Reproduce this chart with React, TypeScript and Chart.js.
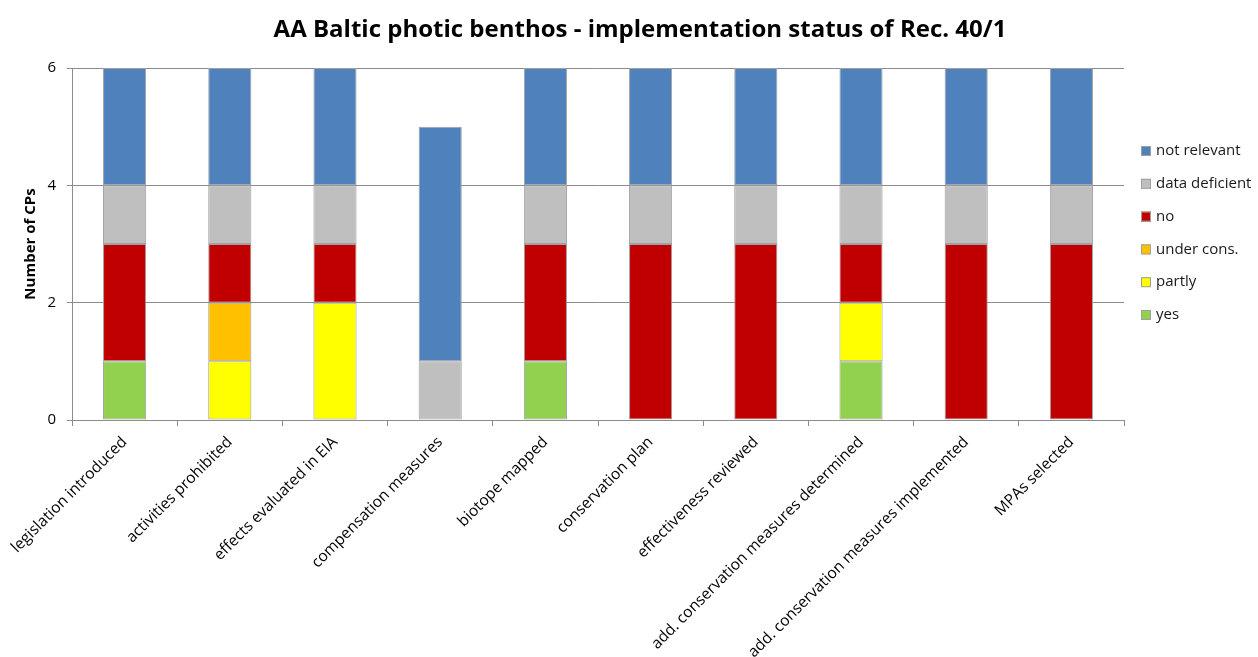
import React, { useEffect, useRef } from "react";
import { Chart, registerables } from "chart.js";

Chart.register(...registerables);

const categories = [
  "legislation introduced",
  "activities prohibited",
  "effects evaluated in EIA",
  "compensation measures",
  "biotope mapped",
  "conservation plan",
  "effectiveness reviewed",
  "add. conservation measures determined",
  "add. conservation measures implemented",
  "MPAs selected",
];

const yesValues = [1, 0, 0, 0, 1, 0, 0, 1, 0, 0];
const partlyValues = [0, 1, 2, 0, 0, 0, 0, 1, 0, 0];
const underConsValues = [0, 1, 0, 0, 0, 0, 0, 0, 0, 0];
const noValues = [2, 1, 1, 0, 2, 3, 3, 1, 3, 3];
const dataDeficientValues = [1, 1, 1, 1, 1, 1, 1, 1, 1, 1];
const notRelevantValues = [2, 2, 2, 4, 2, 2, 2, 2, 2, 2];

const yTicks = [0, 2, 4, 6];

const chartTitle = "AA Baltic photic benthos - implementation status of Rec. 40/1";

const FONT = "'Open Sans', Lato, sans-serif";
const GRID = "#8c8c8c";
const EDGE = "#a0a0a0";

// Title centred over the whole canvas, legend beside the plot (top entry = last stacked series)
const sideDecor = {
  id: "sideDecor",
  afterDraw(chart: any) {
    const { ctx, chartArea } = chart;
    ctx.save();
    ctx.fillStyle = "#000";
    ctx.font = `bold 24px ${FONT}`;
    ctx.textAlign = "center";
    ctx.textBaseline = "middle";
    ctx.fillText(chartTitle, chart.width / 2 + 11, 30);

    const sets = chart.data.datasets.slice().reverse();
    const x = chartArea.right + 17;
    const y0 = chartArea.top + 83;
    const step = 32.8;
    ctx.font = `15px ${FONT}`;
    ctx.textAlign = "left";
    sets.forEach((ds: any, i: number) => {
      const y = y0 + i * step;
      ctx.fillStyle = ds.backgroundColor;
      ctx.fillRect(x, y - 5, 10, 10);
      ctx.strokeStyle = EDGE;
      ctx.lineWidth = 1;
      ctx.strokeRect(x + 0.5, y - 4.5, 9, 9);
      ctx.fillStyle = "#1a1a1a";
      ctx.fillText(ds.label, x + 15, y);
    });
    ctx.restore();
  },
};

export default function App() {
  const canvasRef = useRef<HTMLCanvasElement | null>(null);

  useEffect(() => {
    if (!canvasRef.current) return;
    const mk = (label: string, data: number[], color: string) => ({
      label,
      data,
      backgroundColor: color,
      borderColor: EDGE,
      borderWidth: 1,
      borderSkipped: false,
      barPercentage: 0.41,
      categoryPercentage: 1,
    });
    const chart = new Chart(canvasRef.current, {
      type: "bar",
      data: {
        labels: categories,
        datasets: [
          mk("yes", yesValues, "#92D050"),
          mk("partly", partlyValues, "#FFFF00"),
          mk("under cons.", underConsValues, "#FFC000"),
          mk("no", noValues, "#C00000"),
          mk("data deficient", dataDeficientValues, "#BFBFBF"),
          mk("not relevant", notRelevantValues, "#4F81BD"),
        ],
      },
      options: {
        responsive: false,
        animation: false,
        devicePixelRatio: 1,
        layout: { padding: { left: 0, right: 134, top: 68, bottom: 0 } },
        plugins: {
          legend: { display: false },
          tooltip: { enabled: false },
          title: { display: false },
        },
        scales: {
          x: {
            stacked: true,
            grid: {
              offset: true,
              drawOnChartArea: false,
              drawTicks: true,
              tickLength: 6,
              color: GRID,
            },
            border: { display: true, color: GRID },
            ticks: {
              autoSkip: false,
              minRotation: 45,
              maxRotation: 45,
              padding: 7,
              color: "#000",
              font: { family: FONT, size: 15.5 },
            },
            afterFit: (scale: any) => {
              scale.height = 237;
            },
          },
          y: {
            stacked: true,
            min: 0,
            max: 6,
            afterBuildTicks: (scale: any) => {
              scale.ticks = yTicks.map((v) => ({ value: v }));
            },
            grid: { color: GRID, tickLength: 5, drawTicks: true },
            border: { display: true, color: GRID },
            ticks: {
              padding: 11,
              color: "#000",
              font: { family: FONT, size: 15 },
            },
            title: {
              display: true,
              text: "Number of CPs",
              color: "#000",
              font: { family: FONT, size: 15, weight: "bold" },
              padding: { top: 22, bottom: 4 },
            },
            afterFit: (scale: any) => {
              scale.width = 72;
            },
          },
        },
      },
      plugins: [sideDecor],
    } as any);
    return () => chart.destroy();
  }, []);

  return (
    <div style={{ position: "absolute", left: 0, top: 0, width: 1258, height: 657, background: "#fff" }}>
      <canvas ref={canvasRef} width={1258} height={657} />
    </div>
  );
}
